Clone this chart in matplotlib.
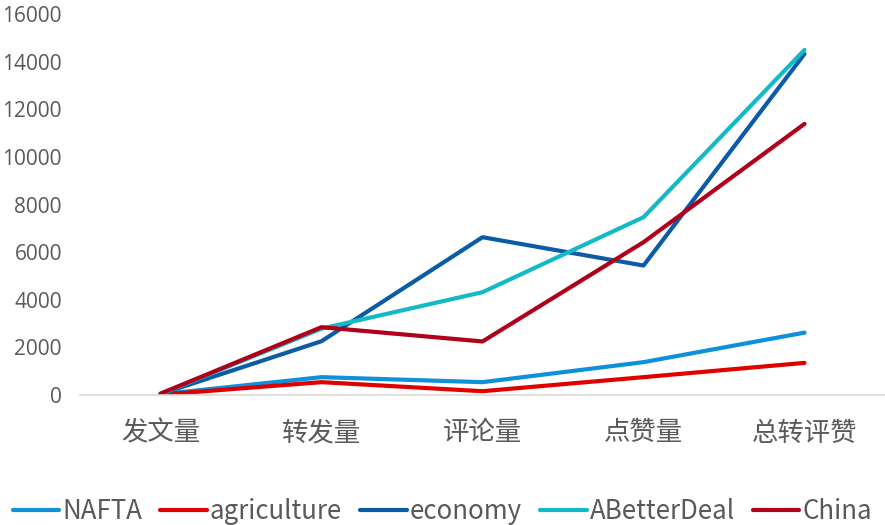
import numpy as np
import matplotlib
matplotlib.use('Agg')
import matplotlib.pyplot as plt

# categories and series
categories = ['发文量', '转发量', '评论量', '点赞量', '总转评赞']
nafta = [30, 750, 540, 1380, 2620]
agriculture = [15, 540, 160, 750, 1350]
economy = [40, 2260, 6630, 5440, 14330]
better_deal = [40, 2790, 4320, 7470, 14500]
china = [60, 2850, 2250, 6420, 11390]

series_names = ['NAFTA', 'agriculture', 'economy', 'ABetterDeal', 'China']
series_colors = ['#0E90DB', '#E00000', '#0B5BA8', '#14B9C8', '#B0001A']

# Open Sans for latin/digits, CJK font as fallback
plt.rcParams['font.family'] = ['Open Sans', 'Noto Sans CJK SC', 'DejaVu Sans']
text_color = '#595959'

fig = plt.figure(figsize=(8.85, 5.25), dpi=100)
ax = fig.add_axes([0.0904, 0.2476, 0.9096, 0.7254])

x = np.arange(len(categories))
for vals, name, col in zip([nafta, agriculture, economy, better_deal, china],
                           series_names, series_colors):
    ax.plot(x, vals, color=col, lw=3.0, label=name, solid_capstyle='round')

ax.set_xlim(-0.5, len(categories) - 0.5)
ax.set_ylim(0, 16000)
ax.set_yticks(np.arange(0, 16001, 2000))
ax.set_xticks(x)
ax.set_xticklabels(categories)

for s in ['top', 'right', 'left']:
    ax.spines[s].set_visible(False)
ax.spines['bottom'].set_color('#D9D9D9')
ax.spines['bottom'].set_linewidth(1.2)

ax.tick_params(axis='y', length=0, pad=13, labelsize=15, labelcolor=text_color)
ax.tick_params(axis='x', length=0, pad=19, labelsize=19, labelcolor=text_color)

leg = fig.legend(loc='lower center', bbox_to_anchor=(0.5, -0.03), ncol=5,
                 frameon=False, prop={'family': 'Noto Sans CJK SC', 'size': 18.6},
                 handlelength=1.8, handletextpad=0.12, columnspacing=0.7,
                 borderaxespad=0.2)
for t in leg.get_texts():
    t.set_color(text_color)
for h in leg.get_lines():
    h.set_linewidth(3.0)

fig.savefig('out.png', dpi=100)
